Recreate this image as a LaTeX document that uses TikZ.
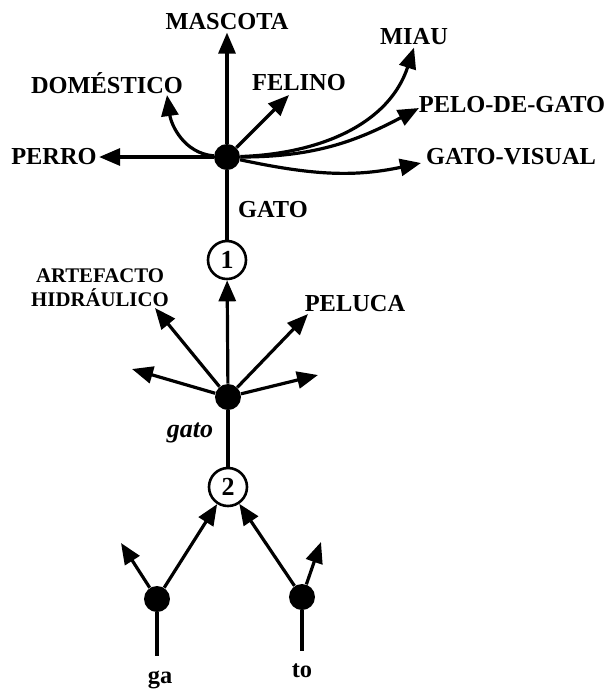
\documentclass[tikz,border=0pt]{standalone}
\usepackage{fontspec}
\setmainfont{Liberation Serif}
\usetikzlibrary{arrows.meta,math}

\tikzset{
  lbl/.style={font=\bfseries\fontsize{12.2}{14}\selectfont, inner sep=1pt},
  smalllbl/.style={font=\bfseries\fontsize{10.4}{12}\selectfont, inner sep=1pt, align=center},
  hubdot/.style={circle, fill, inner sep=0pt, minimum size=13pt},
  stagecirc/.style={circle, draw, line width=1.3pt, inner sep=0pt, minimum size=19pt,
    font=\bfseries\fontsize{13}{15}\selectfont},
  arr/.style={-{Triangle[length=10.5pt,width=8.5pt]}, line width=1.6pt},
  stem/.style={line width=1.6pt},
}

\begin{document}
\begin{tikzpicture}[x=0.5pt, y=-0.5pt]
  \useasboundingbox (0,0) rectangle (608,693);

  % upper level
  \node[hubdot] (top) at (227,157) {};
  \node[lbl] (mascota) at (227,22) {MASCOTA};
  \node[lbl] (miau) at (414,37) {MIAU};
  \node[lbl] (domestico) at (107,83) {DOMÉSTICO};
  \node[lbl] (felino) at (299,83) {FELINO};
  \node[lbl] (pelo) at (512,105) {PELO-DE-GATO};
  \node[lbl] (perro) at (54,157) {PERRO};
  \node[lbl] (visual) at (511,157) {GATO-VISUAL};
  \node[lbl] (gatoup) at (273,210) {GATO};
  \coordinate (domtip) at (167,95);
  \coordinate (feltip) at (289,95);
  \coordinate (pelotip) at (419,108);
  \coordinate (vistip) at (421,163);

  \draw[arr] (top) -- (mascota.south);
  \draw[arr] (top) -- (perro.east);
  \draw[arr] (top) -- (feltip);
  \draw[arr] (top) to[out=175,in=-82] (domtip);
  \draw[arr] (top) to[out=2,in=-108] (miau.south);
  \draw[arr] (top) to[out=0,in=-152] (pelotip);
  \draw[arr] (top) to[out=-12,in=192] (vistip);

  % middle level
  \node[stagecirc] (one) at (227,260) {1};
  \node[hubdot] (mid) at (228,397) {};
  \node[smalllbl] (artefacto) at (100,288) {ARTEFACTO\\HIDRÁULICO};
  \node[lbl] (peluca) at (355,304) {PELUCA};
  \node[lbl, font=\bfseries\itshape\fontsize{13}{15}\selectfont] (gatolow) at (190,433) {gato};
  \coordinate (arttip) at (155,308);
  \coordinate (peltip) at (308,314);
  \coordinate (lefttip) at (132,369);
  \coordinate (righttip) at (318,375);

  \draw[stem] (top) -- (one);
  \draw[arr] (mid) -- (one);
  \draw[arr] (mid) -- (arttip);
  \draw[arr] (mid) -- (peltip);
  \draw[arr] (mid) -- (lefttip);
  \draw[arr] (mid) -- (righttip);

  % lower level
  \node[stagecirc] (two) at (228,487) {2};
  \node[hubdot] (ga) at (157,599) {};
  \node[hubdot] (to) at (302,597) {};
  \node[lbl] (galbl) at (160,680) {ga};
  \node[lbl] (tolbl) at (302,671) {to};
  \coordinate (gaend) at (157,656);
  \coordinate (toend) at (302,651);
  \coordinate (gatip) at (121,543);
  \coordinate (totip) at (321,542);

  \draw[stem] (mid) -- (two);
  \draw[arr] (ga) -- (two);
  \draw[arr] (to) -- (two);
  \draw[arr] (ga) -- (gatip);
  \draw[arr] (to) -- (totip);
  \draw[stem] (ga) -- (gaend);
  \draw[stem] (to) -- (toend);
\end{tikzpicture}
\end{document}
